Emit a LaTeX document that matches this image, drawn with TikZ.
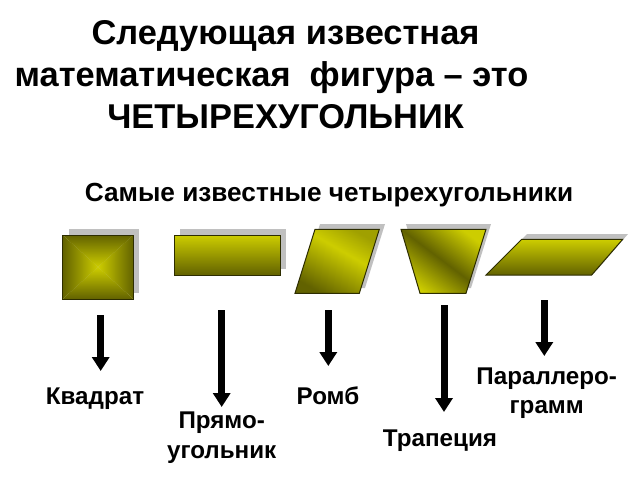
\documentclass[tikz,border=0pt]{standalone}
\usepackage{fontspec}
\setmainfont{Liberation Sans}
\usetikzlibrary{arrows.meta}
\definecolor{br}{RGB}{205,205,0}
\definecolor{dk}{RGB}{98,98,0}
\definecolor{md}{RGB}{160,160,0}
\definecolor{edge}{RGB}{45,45,0}
\definecolor{shad}{RGB}{192,192,192}
\pgfdeclareverticalshading{rhombsh}{100bp}{color(0bp)=(dk); color(25bp)=(dk); color(58bp)=(br); color(75bp)=(md); color(100bp)=(md)}
\pgfdeclareverticalshading{trapsh}{100bp}{color(0bp)=(br); color(25bp)=(br); color(50bp)=(dk); color(75bp)=(br); color(100bp)=(br)}
\begin{document}
\begin{tikzpicture}[x=1pt,y=-1pt,
  ttl/.style={font=\fontsize{34.4}{40}\selectfont\bfseries, inner sep=0pt, anchor=base},
  sub/.style={font=\fontsize{26.2}{30}\selectfont\bfseries, inner sep=0pt, anchor=base},
  lbl/.style={font=\fontsize{24.2}{28}\selectfont\bfseries, inner sep=0pt, anchor=base},
  shadowfill/.style={fill=shad, draw=none},
  outline/.style={draw=edge, line width=1pt},
  bigarrow/.style={line width=7pt, -{Triangle[width=17pt,length=14pt]}}]
\useasboundingbox (0,0) rectangle (640,480);

% titles
\node[ttl] (t1) at (285.5,44) {Следующая известная};
\node[ttl] (t2) at (271.5,86) {математическая \ фигура – это};
\node[ttl] (t3) at (285.5,128) {ЧЕТЫРЕХУГОЛЬНИК};
\node[sub] (st) at (329,201) {Самые известные четырехугольники};

% square
\fill[shadowfill] (68.7,229) rectangle (139.3,293);
\coordinate (sqc) at (98,267);
\shade[top color=br, bottom color=dk] (62.7,299) -- (133.3,299) -- (sqc) -- cycle;
\shade[bottom color=br, top color=dk] (62.7,235) -- (133.3,235) -- (sqc) -- cycle;
\shade[left color=dk, right color=br] (62.7,235) -- (62.7,299) -- (sqc) -- cycle;
\shade[right color=dk, left color=br] (133.3,235) -- (133.3,299) -- (sqc) -- cycle;
\draw[outline] (62.7,235) rectangle (133.3,299);

% rectangle
\fill[shadowfill] (180,229) rectangle (286,269);
\shade[top color=br, bottom color=dk, outline] (174,235) rectangle (280,275);

% rhombus
\fill[shadowfill] (320,224) -- (385,224) -- (365,288) -- (300,288) -- cycle;
\shade[shading=rhombsh, shading angle=-30, outline] (315,229.3) -- (379.3,229.3) -- (359.3,293.3) -- (295,293.3) -- cycle;

% trapezoid
\fill[shadowfill] (406,224) -- (491,224) -- (471,288) -- (425,288) -- cycle;
\shade[shading=trapsh, shading angle=-37, outline] (401,229.3) -- (486,229.3) -- (466,293.3) -- (420,293.3) -- cycle;

% parallelogram
\fill[shadowfill] (527,234) -- (628,234) -- (597,270) -- (491,270) -- cycle;
\shade[top color=br, bottom color=dk, outline] (521.7,239.3) -- (622.7,239.3) -- (591.7,275) -- (486,275) -- cycle;

% arrows
\coordinate (a1s) at (100.7,315); \coordinate (a1e) at (100.7,371);
\coordinate (a2s) at (221.7,310); \coordinate (a2e) at (221.7,407);
\coordinate (a3s) at (328.3,310); \coordinate (a3e) at (328.3,366);
\coordinate (a4s) at (444,305);   \coordinate (a4e) at (444,412);
\coordinate (a5s) at (544.3,300); \coordinate (a5e) at (544.3,356);
\draw[bigarrow] (a1s) -- (a1e);
\draw[bigarrow] (a2s) -- (a2e);
\draw[bigarrow] (a3s) -- (a3e);
\draw[bigarrow] (a4s) -- (a4e);
\draw[bigarrow] (a5s) -- (a5e);

% labels
\node[lbl] (kv) at (95,404) {Квадрат};
\node[lbl] (pr1) at (221.7,428) {Прямо-};
\node[lbl] (pr2) at (221.7,458) {угольник};
\node[lbl] (rb) at (328,404) {Ромб};
\node[lbl] (tr) at (440,446.5) {Трапеция};
\node[lbl] (pa1) at (546.7,384) {Параллеро-};
\node[lbl] (pa2) at (546.7,413) {грамм};
\end{tikzpicture}
\end{document}
